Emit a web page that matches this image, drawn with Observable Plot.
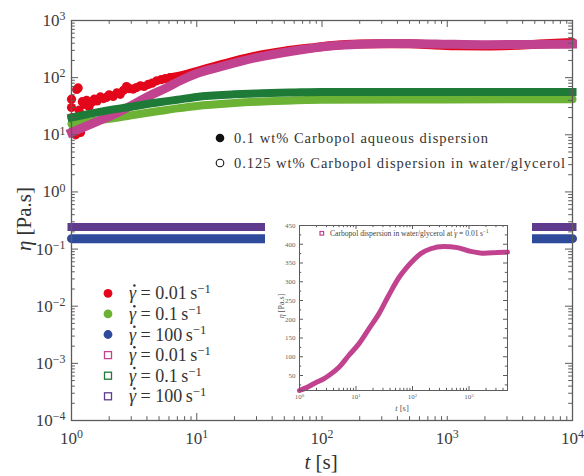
<!DOCTYPE html>
<html>
<head>
<meta charset="utf-8">
<script src="https://cdn.jsdelivr.net/npm/d3@7"></script>
<script src="https://cdn.jsdelivr.net/npm/@observablehq/plot@0.6"></script>
<style>
  body { margin: 0; background: #fff; }
  #fig { position: relative; width: 584px; height: 476px; font-family: "Liberation Serif", serif; }
  #fig > svg { position: absolute; }
  #fig svg text { font-family: "Liberation Serif", serif; }
</style>
</head>
<body>
<div id="fig"></div>
<script>
// ---- data: viscosity eta [Pa.s] versus time t [s] ----
// 0.1 wt% Carbopol aqueous dispersion (filled circles)
const redDotT   = [1.0, 1.0, 1.01, 1.03, 1.05, 1.08, 1.1, 1.13, 1.15, 1.18, 1.22, 1.27, 1.32, 1.38, 1.45, 1.52, 1.6, 1.7, 1.8, 1.9, 2.0, 2.15, 2.3, 2.45, 2.6, 2.75, 2.9, 3.1, 3.3, 3.55, 3.8, 4.1, 4.4, 4.8, 5.2, 5.6, 6.1];
const redDotEta = [42, 30, 20, 12, 11, 10, 62, 66, 27, 11, 38, 34, 40, 31, 37, 42, 39, 46, 43, 45, 50, 47, 54, 51, 60, 70, 64, 63, 67, 72, 70, 76, 80, 88, 92, 96, 100];
const redT   = [6, 8, 10, 14, 20, 30, 50, 80, 120, 200, 300, 500, 800, 1200, 2000, 3500, 6000, 10000];
const redEta = [98, 112, 128, 158, 195, 240, 290, 330, 365, 388, 392, 390, 372, 360, 358, 368, 392, 412];

const lgreenT   = [1, 1.5, 2, 3, 5, 7, 10, 20, 50, 100, 1000, 10000];
const lgreenEta = [15.5, 17.5, 19, 22, 26, 29, 32, 36, 39.5, 41, 41.5, 42];

const blueT   = [1, 3, 10, 30, 100, 300, 1000, 3000, 10000];
const blueEta = [0.152, 0.152, 0.152, 0.152, 0.152, 0.152, 0.152, 0.152, 0.152];

// 0.125 wt% Carbopol dispersion in water/glycerol (open squares)
const pinkT   = [1, 1.3, 1.7, 2.2, 2.8, 3.5, 4.5, 5.7, 7.5, 10, 15, 30, 59, 117, 200, 350, 600, 1000, 2000, 4000, 10000];
const pinkEta = [11, 14, 18, 23, 30, 39, 52, 66, 90, 118, 152, 224, 293, 359, 385, 395, 393, 385, 378, 382, 386];

const dgreenT   = [1, 1.5, 2, 3, 5, 7, 10, 20, 30, 60, 100, 1000, 10000];
const dgreenEta = [20, 24, 27, 31, 37, 41, 46, 51, 53, 55, 56, 56, 56];

const purpleT   = [1, 3, 10, 30, 100, 300, 1000, 3000, 10000];
const purpleEta = [0.244, 0.244, 0.244, 0.244, 0.244, 0.244, 0.244, 0.244, 0.244];

// inset: water/glycerol dispersion at 0.01 s^-1 on a linear eta axis
const insetT   = [1, 1.3, 1.9, 2.6, 3.3, 5, 7.5, 11.3, 17, 25.5, 38, 58, 76, 93, 140, 210, 360, 625, 1070, 1860, 3170, 4800];
const insetEta = [10, 17, 30, 40, 50, 72, 104, 135, 175, 215, 264, 312, 335, 350, 375, 388, 394, 391, 381, 376, 378, 379];

// legend entries
const rates = ["0.01", "0.1", "100"];
const groupLabels = ["0.1 wt% Carbopol aqueous dispersion", "0.125 wt% Carbopol dispersion in water/glycerol"];
const insetLabel = "Carbopol dispersion in water/glycerol at ";

const colors = {red: "#e3061a", lgreen: "#6cb234", blue: "#2e4a9b", pink: "#c1438f", dgreen: "#1e7a37", purple: "#5f3b8e"};

const rows = (ts, es) => ts.map((t, i) => ({t, eta: es[i]}));

// log-decade tick helper
function logTicks(lo, hi, max = Infinity) {
  const major = [], minor = [];
  for (let e = lo; e <= hi; e++) {
    major.push(10 ** e);
    for (let k = 2; k < 10; k++) if (k * 10 ** e <= max && e < hi) minor.push(k * 10 ** e);
  }
  return {major: major.filter(d => d <= max), minor};
}
const powFmt = d => "10^" + Math.round(Math.log10(d));

// ---- main chart ----
const W = 584, H = 476, mL = 71, mT = 20, mR = 12, mB = 56;
const fw = W - mL - mR, fh = H - mT - mB;
const xt = logTicks(0, 4), yt = logTicks(-4, 3);
const axisGray = "#5c5c5c", labelGray = "#3b3b3b";

function frameTicks(xs, ys, len, w, h, stroke) {
  return [
    Plot.tickX(xs, {x: d => d, insetTop: h - len, stroke}),
    Plot.tickX(xs, {x: d => d, insetBottom: h - len, stroke}),
    Plot.tickY(ys, {y: d => d, insetRight: w - len, stroke}),
    Plot.tickY(ys, {y: d => d, insetLeft: w - len, stroke})
  ];
}

const main = Plot.plot({
  width: W, height: H,
  marginLeft: mL, marginTop: mT, marginRight: mR, marginBottom: mB,
  x: {type: "log", domain: [1, 1e4]},
  y: {type: "log", domain: [1e-4, 1e3]},
  style: {fontFamily: "'Liberation Serif', serif", background: "transparent"},
  marks: [
    Plot.dot(rows(redDotT, redDotEta), {x: "t", y: "eta", r: 4.6, fill: colors.red}),
    Plot.line(rows(redT, redEta), {x: "t", y: "eta", stroke: colors.red, strokeWidth: 9, strokeLinecap: "round", curve: "monotone-x"}),
    Plot.line(rows(lgreenT, lgreenEta), {x: "t", y: "eta", stroke: colors.lgreen, strokeWidth: 8, strokeLinecap: "round", curve: "monotone-x"}),
    Plot.line(rows(blueT, blueEta), {x: "t", y: "eta", stroke: colors.blue, strokeWidth: 9, strokeLinecap: "round"}),
    Plot.line(rows(pinkT, pinkEta), {x: "t", y: "eta", stroke: colors.pink, strokeWidth: 9, strokeLinecap: "square", curve: "monotone-x"}),
    Plot.line(rows(dgreenT, dgreenEta), {x: "t", y: "eta", stroke: colors.dgreen, strokeWidth: 8, strokeLinecap: "square", curve: "monotone-x"}),
    Plot.line(rows(purpleT, purpleEta), {x: "t", y: "eta", stroke: colors.purple, strokeWidth: 8, strokeLinecap: "square"}),
    Plot.frame({stroke: axisGray, strokeWidth: 1.3}),
    ...frameTicks(xt.major, yt.major, 7, fw, fh, axisGray),
    ...frameTicks(xt.minor, yt.minor, 3.8, fw, fh, axisGray),
    Plot.axisX({ticks: xt.major, tickSize: 0, tickPadding: 11, tickFormat: powFmt, fontSize: 17, fill: labelGray, label: null}),
    Plot.axisY({ticks: yt.major, tickSize: 0, tickPadding: 6, tickFormat: powFmt, fontSize: 17, fill: labelGray, label: null})
  ]
});

// ---- inset ----
const iW = 267, iH = 204, iL = 34, iT = 13, iR = 25, iB = 26;
const ixt = logTicks(0, 3, 4800);
ixt.minor.push(2000, 3000, 4000);
const iyMajor = [50, 100, 150, 200, 250, 300, 350, 400, 450];
const iyMinor = [25, 75, 125, 175, 225, 275, 325, 375, 425];
const inset = Plot.plot({
  width: iW, height: iH,
  marginLeft: iL, marginTop: iT, marginRight: iR, marginBottom: iB,
  x: {type: "log", domain: [1, 4800]},
  y: {domain: [10, 450]},
  style: {fontFamily: "'Liberation Serif', serif", background: "#fff"},
  marks: [
    Plot.line(rows(insetT, insetEta), {x: "t", y: "eta", stroke: colors.pink, strokeWidth: 5, curve: "monotone-x"}),
    Plot.frame({stroke: axisGray, strokeWidth: 1}),
    ...frameTicks(ixt.major, iyMajor, 4, iW - iL - iR, iH - iT - iB, axisGray),
    ...frameTicks(ixt.minor, iyMinor, 2.2, iW - iL - iR, iH - iT - iB, axisGray),
    Plot.axisX({ticks: ixt.major, tickSize: 0, tickPadding: 4, tickFormat: powFmt, fontSize: 7, fill: "#666", label: null}),
    Plot.axisY({ticks: iyMajor, tickSize: 0, tickPadding: 4, fontSize: 7, fill: "#666", label: null})
  ]
});

// turn "10^e" tick labels into a base with a raised exponent
function superscripts(svg) {
  d3.select(svg).selectAll("text").each(function () {
    const s = this.textContent;
    if (!s.includes("^")) return;
    const [b, e] = s.split("^");
    const t = d3.select(this).text(null);
    t.append("tspan").text(b);
    t.append("tspan").attr("dy", "-0.48em").attr("font-size", "0.7em").text(e.replace("-", "−"));
  });
}
superscripts(main);
superscripts(inset);

const fig = d3.select("#fig");
fig.append(() => main).style("left", "0px").style("top", "0px");
fig.append(() => inset).style("left", "265px").style("top", "212px");

// ---- overlay: legends and axis titles ----
const ov = fig.append("svg").attr("width", W).attr("height", H)
  .style("left", "0px").style("top", "0px")
  .attr("fill", "#333");

// group legend (filled = aqueous, open = water/glycerol)
ov.append("circle").attr("cx", 220).attr("cy", 138).attr("r", 4.3).attr("fill", "#111");
ov.append("circle").attr("cx", 220).attr("cy", 163).attr("r", 3.8).attr("fill", "none").attr("stroke", "#111").attr("stroke-width", 1.1);
ov.append("text").attr("x", 234).attr("y", 138).attr("dy", "0.34em").attr("font-size", 14.5)
  .attr("textLength", 254).attr("lengthAdjust", "spacing").text(groupLabels[0]);
ov.append("text").attr("x", 234).attr("y", 163).attr("dy", "0.34em").attr("font-size", 14.5)
  .attr("textLength", 331).attr("lengthAdjust", "spacing").text(groupLabels[1]);

// gamma-dot: italic gamma with a dot drawn above it
function rateLabel(x, y, rate, size, fill) {
  const t = ov.append("text").attr("x", x).attr("y", y).attr("dy", "0.34em").attr("font-size", size).attr("fill", fill);
  t.append("tspan").attr("font-style", "italic").text("γ");
  t.append("tspan").text(" = " + rate + "\u2009s");
  t.append("tspan").attr("dy", "-0.5em").attr("font-size", "0.7em").text("−1");
  ov.append("circle").attr("cx", x + size * 0.3).attr("cy", y - size * 0.43).attr("r", size * 0.07).attr("fill", fill);
  return t;
}

// shear-rate legend
const legendY = [293.3, 313.9, 334.5, 355.1, 375.7, 396.3];
const filled = [colors.red, colors.lgreen, colors.blue];
const open = [colors.pink, colors.dgreen, colors.purple];
rates.forEach((r, i) => {
  ov.append("circle").attr("cx", 108).attr("cy", legendY[i]).attr("r", 4.4).attr("fill", filled[i]);
  rateLabel(129, legendY[i], r, 18, "#333");
});
rates.forEach((r, i) => {
  ov.append("rect").attr("x", 104.5).attr("y", legendY[i + 3] - 3.5).attr("width", 7).attr("height", 7)
    .attr("fill", "none").attr("stroke", open[i]).attr("stroke-width", 1.3);
  rateLabel(129, legendY[i + 3], r, 18, "#333");
});

// inset legend
ov.append("rect").attr("x", 320).attr("y", 231.5).attr("width", 3.6).attr("height", 3.6)
  .attr("fill", "none").attr("stroke", colors.pink).attr("stroke-width", 1.2);
{
  const t = ov.append("text").attr("x", 330).attr("y", 233.3).attr("dy", "0.34em").attr("font-size", 7.6).attr("fill", "#444");
  t.append("tspan").text(insetLabel);
  const pre = t.node().getComputedTextLength();
  t.append("tspan").attr("font-style", "italic").text("γ");
  t.append("tspan").text(" = " + rates[0] + "\u2009s");
  t.append("tspan").attr("dy", "-0.5em").attr("font-size", "0.7em").text("−1");
  ov.append("circle").attr("cx", 330 + pre + 7.6 * 0.3).attr("cy", 233.3 - 7.6 * 0.43).attr("r", 0.55).attr("fill", "#444");
}

// axis titles
function axisTitle(x, y, sym, unit, size, rotate, fill) {
  const t = ov.append("text").attr("text-anchor", "middle").attr("font-size", size).attr("fill", fill)
    .attr("transform", `translate(${x},${y})` + (rotate ? " rotate(-90)" : ""));
  t.append("tspan").attr("font-style", "italic").text(sym);
  t.append("tspan").text(" [" + unit + "]");
}
axisTitle(321, 469, "t", "s", 21, false, "#333");
axisTitle(31, 219, "η", "Pa.s", 21, true, "#333");
axisTitle(402, 411, "t", "s", 8.5, false, "#555");
axisTitle(284, 306, "η", "Pa.s", 8, true, "#555");
</script>
</body>
</html>
